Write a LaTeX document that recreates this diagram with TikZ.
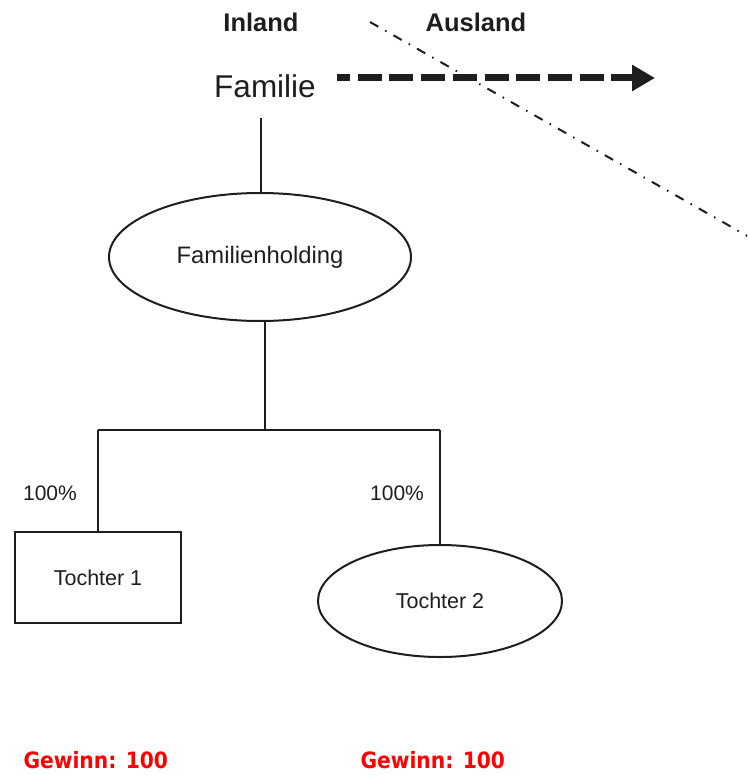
\documentclass[tikz,border=0pt]{standalone}
\usepackage{fontspec}
\setmainfont{Liberation Sans}
\newfontfamily\gewinnfont{DejaVu Sans Condensed}
\usetikzlibrary{arrows.meta,shapes.geometric}
\definecolor{linegray}{RGB}{30,30,30}
\definecolor{gewinnred}{RGB}{255,0,0}
\tikzset{
  conn/.style={draw=linegray,line width=2pt},
  oval/.style={ellipse,draw=linegray,line width=2pt,inner sep=0pt},
  rectbox/.style={rectangle,draw=linegray,line width=2pt,inner sep=0pt},
  region/.style={font=\bfseries\fontsize{25.5}{29}\selectfont,text=linegray},
  share/.style={font=\fontsize{21}{24}\selectfont,text=linegray},
  profit/.style={font=\gewinnfont\bfseries\fontsize{22.5}{26}\selectfont,text=gewinnred},
  flowarrow/.style={draw=linegray,line width=7pt,dash pattern=on 24pt off 7.7pt,dash phase=11pt,
    -{Triangle[length=23pt,width=25pt]}},
  border/.style={draw=linegray,line width=2pt,dash pattern=on 9.5pt off 8pt on 1.5pt off 8pt}
}
\begin{document}
\begin{tikzpicture}[x=1pt,y=-1pt]
\useasboundingbox (0,0) rectangle (747,775);
\clip (0,0) rectangle (747,775);

% Inland / Ausland
\node[region] (inland) at (261,22) {Inland};
\node[region] (ausland) at (476,22) {Ausland};
\coordinate (b1) at (370,22);
\coordinate (b2) at (765,246);
\draw[border] (b1) -- (b2);

% shareholder family and outbound flow
\node[font=\fontsize{31.5}{35}\selectfont,text=linegray] (familie) at (265,86) {Familie};
\coordinate (fa) at (337,78);
\coordinate (fb) at (655,78);
\draw[flowarrow] (fa) -- (fb);

% holding
\node[oval,minimum width=302pt,minimum height=128pt,
      font=\fontsize{23.8}{27}\selectfont,text=linegray] (holding) at (260,257) {Familienholding};
\coordinate (fs) at (261,118);
\draw[conn] (fs) -- (fs |- holding.north);

% subsidiaries
\node[rectbox,minimum width=166pt,minimum height=91pt,
      font=\fontsize{21.5}{24}\selectfont,text=linegray] (t1) at (98,577.5) {Tochter 1};
\node[oval,minimum width=244pt,minimum height=112pt,
      font=\fontsize{21.5}{24}\selectfont,text=linegray] (t2) at (440,601) {Tochter 2};

\coordinate (j) at (265,430);
\draw[conn] (holding.south -| j) -- (j);
\draw[conn] (t1.north |- j) -- (t2.north |- j);
\draw[conn] (t1.north |- j) -- (t1.north);
\draw[conn] (t2.north |- j) -- (t2.north);

\node[share] (p1) at (50,493) {100\%};
\node[share] (p2) at (397,493) {100\%};

\node[profit,anchor=west] (g1) at (20,760) {Gewinn: 100};
\node[profit,anchor=west] (g2) at (357,760) {Gewinn: 100};
\end{tikzpicture}
\end{document}
